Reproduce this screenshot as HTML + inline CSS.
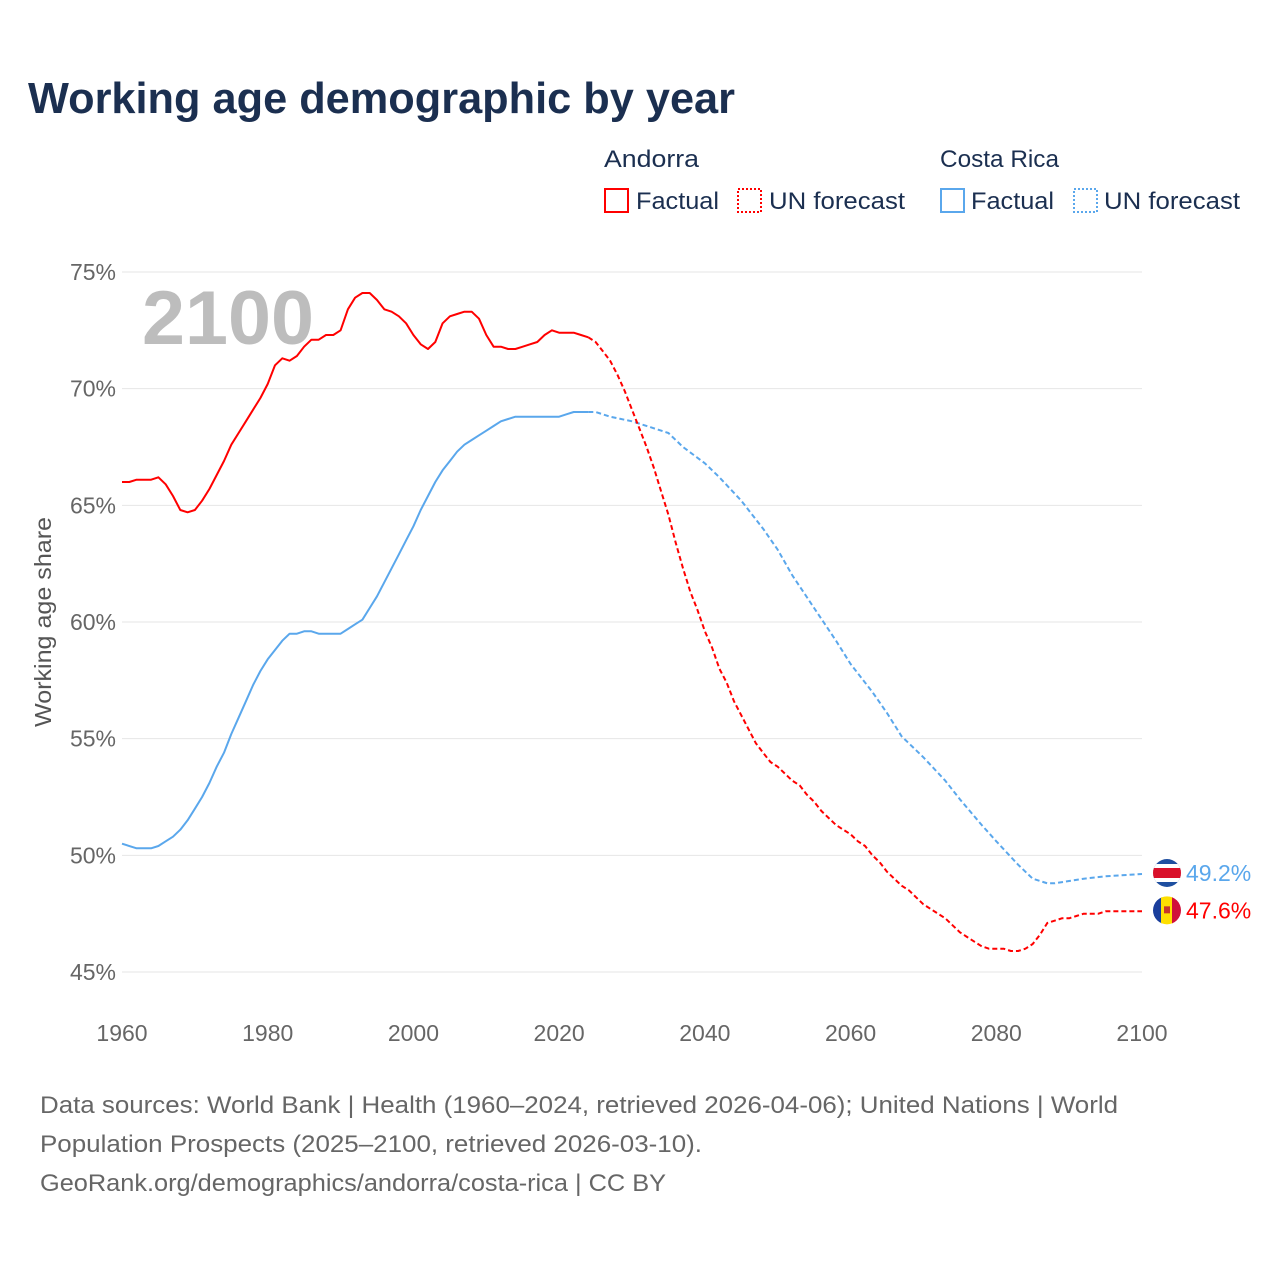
<!DOCTYPE html>
<html><head><meta charset="utf-8"><style>
body{margin:0;background:#fff;width:1280px;height:1280px;overflow:hidden;font-family:"Liberation Sans",sans-serif}
svg text{font-family:"Liberation Sans",sans-serif}
</style></head><body>
<svg id="chart" width="1280" height="1280" xmlns="http://www.w3.org/2000/svg">
<text x="28" y="113" font-size="44" font-weight="bold" fill="#1b2f50" textLength="707" lengthAdjust="spacingAndGlyphs">Working age demographic by year</text>
<g>
<text x="604" y="167" font-size="24" fill="#1b2f50" textLength="95" lengthAdjust="spacingAndGlyphs">Andorra</text>
<rect x="605" y="189" width="23" height="23" fill="none" stroke="#f00" stroke-width="2"/>
<text x="636" y="209" font-size="24" fill="#1b2f50" textLength="83" lengthAdjust="spacingAndGlyphs">Factual</text>
<rect x="738" y="189" width="23" height="23" fill="none" stroke="#f00" stroke-width="2" stroke-dasharray="2 2"/>
<text x="769" y="209" font-size="24" fill="#1b2f50" textLength="136" lengthAdjust="spacingAndGlyphs">UN forecast</text>
<text x="940" y="167" font-size="24" fill="#1b2f50" textLength="119" lengthAdjust="spacingAndGlyphs">Costa Rica</text>
<rect x="941" y="189" width="23" height="23" fill="none" stroke="#5aa7ec" stroke-width="2"/>
<text x="971" y="209" font-size="24" fill="#1b2f50" textLength="83" lengthAdjust="spacingAndGlyphs">Factual</text>
<rect x="1074" y="189" width="23" height="23" fill="none" stroke="#5aa7ec" stroke-width="2" stroke-dasharray="2 2"/>
<text x="1104" y="209" font-size="24" fill="#1b2f50" textLength="136" lengthAdjust="spacingAndGlyphs">UN forecast</text>
</g>
<text x="142" y="344" font-size="76" font-weight="bold" fill="#bdbdbd" textLength="172" lengthAdjust="spacingAndGlyphs">2100</text>
<text transform="translate(51,622) rotate(-90)" text-anchor="middle" font-size="23" fill="#555" textLength="210" lengthAdjust="spacingAndGlyphs">Working age share</text>
<g id="grid"></g><g id="xt"></g><g id="lines"></g><g id="ends"></g>
<g font-size="24" fill="#666">
<text x="40" y="1113" textLength="1078" lengthAdjust="spacingAndGlyphs">Data sources: World Bank | Health (1960–2024, retrieved 2026-04-06); United Nations | World</text>
<text x="40" y="1152" textLength="662" lengthAdjust="spacingAndGlyphs">Population Prospects (2025–2100, retrieved 2026-03-10).</text>
<text x="40" y="1191" textLength="626" lengthAdjust="spacingAndGlyphs">GeoRank.org/demographics/andorra/costa-rica | CC BY</text>
</g>
</svg>
<script>
const yTicks=[45,50,55,60,65,70,75];
const xTicks=[1960,1980,2000,2020,2040,2060,2080,2100];
const andYears=[1960,1961,1962,1964,1965,1966,1967,1968,1969,1970,1971,1972,1973,1974,1975,1976,1977,1978,1979,1980,1981,1982,1983,1984,1985,1986,1987,1988,1989,1990,1991,1992,1993,1994,1995,1996,1997,1998,1999,2000,2001,2002,2003,2004,2005,2006,2007,2008,2009,2010,2011,2012,2013,2014,2015,2016,2017,2018,2019,2020,2021,2022,2023,2024];
const andVals=[66.0,66.0,66.1,66.1,66.2,65.9,65.4,64.8,64.7,64.8,65.2,65.7,66.3,66.9,67.6,68.1,68.6,69.1,69.6,70.2,71.0,71.3,71.2,71.4,71.8,72.1,72.1,72.3,72.3,72.5,73.4,73.9,74.1,74.1,73.8,73.4,73.3,73.1,72.8,72.3,71.9,71.7,72.0,72.8,73.1,73.2,73.3,73.3,73.0,72.3,71.8,71.8,71.7,71.7,71.8,71.9,72.0,72.3,72.5,72.4,72.4,72.4,72.3,72.2];
const andFYears=[2024,2025,2026,2027,2028,2029,2030,2031,2032,2033,2034,2035,2036,2037,2038,2039,2040,2041,2042,2043,2044,2045,2046,2047,2048,2049,2050,2051,2052,2053,2054,2055,2056,2057,2058,2059,2060,2061,2062,2063,2064,2065,2066,2067,2068,2069,2070,2071,2072,2073,2074,2075,2076,2077,2078,2079,2080,2081,2082,2083,2084,2085,2086,2087,2088,2089,2090,2091,2092,2093,2094,2095,2100];
const andFVals=[72.2,72.0,71.6,71.2,70.6,69.9,69.1,68.3,67.5,66.6,65.6,64.6,63.4,62.3,61.3,60.5,59.6,58.9,58.0,57.4,56.6,56.0,55.4,54.8,54.4,54.0,53.8,53.5,53.2,53.0,52.6,52.3,51.9,51.6,51.3,51.1,50.9,50.6,50.4,50.0,49.7,49.3,49.0,48.7,48.5,48.2,47.9,47.7,47.5,47.3,47.0,46.7,46.5,46.3,46.1,46.0,46.0,46.0,45.9,45.9,46.0,46.2,46.6,47.1,47.2,47.3,47.3,47.4,47.5,47.5,47.5,47.6,47.6];
const crYears=[1960,1962,1964,1965,1966,1967,1968,1969,1970,1971,1972,1973,1974,1975,1976,1977,1978,1979,1980,1981,1982,1983,1984,1985,1986,1987,1988,1989,1990,1991,1992,1993,1994,1995,1996,1997,1998,1999,2000,2001,2002,2003,2004,2005,2006,2007,2008,2009,2010,2011,2012,2013,2014,2015,2016,2017,2018,2019,2020,2021,2022,2023,2024];
const crVals=[50.5,50.3,50.3,50.4,50.6,50.8,51.1,51.5,52.0,52.5,53.1,53.8,54.4,55.2,55.9,56.6,57.3,57.9,58.4,58.8,59.2,59.5,59.5,59.6,59.6,59.5,59.5,59.5,59.5,59.7,59.9,60.1,60.6,61.1,61.7,62.3,62.9,63.5,64.1,64.8,65.4,66.0,66.5,66.9,67.3,67.6,67.8,68.0,68.2,68.4,68.6,68.7,68.8,68.8,68.8,68.8,68.8,68.8,68.8,68.9,69.0,69.0,69.0];
const crFYears=[2024,2025,2027,2030,2033,2035,2037,2040,2042,2045,2048,2050,2052,2055,2058,2060,2063,2065,2067,2070,2073,2075,2078,2080,2083,2085,2087,2088,2090,2092,2095,2100];
const crFVals=[69.0,69.0,68.8,68.6,68.3,68.1,67.5,66.8,66.2,65.2,64.0,63.1,62.0,60.6,59.2,58.2,57.0,56.1,55.1,54.2,53.2,52.4,51.3,50.6,49.6,49.0,48.8,48.8,48.9,49.0,49.1,49.2];
const X=y=>122+(y-1960)*(1020/140);
const Y=v=>972-(v-45)*(700/30);
const NS="http://www.w3.org/2000/svg";
function mk(tag,attrs,parent){const e=document.createElementNS(NS,tag);for(const k in attrs)e.setAttribute(k,attrs[k]);parent.appendChild(e);return e;}
const grid=document.getElementById('grid');
yTicks.forEach(t=>{
 const l=mk('line',{x1:122,x2:1142,y1:Y(t),y2:Y(t),stroke:'#e6e6e6','stroke-width':1},grid);
 
 
 const tx=mk('text',{x:116,y:Y(t)+8,'text-anchor':'end','font-size':23,fill:'#666'},grid);
 tx.textContent=t+'%';
 
 
});
const xt=document.getElementById('xt');
xTicks.forEach(t=>{
 const tx=mk('text',{x:X(t),y:1041,'text-anchor':'middle','font-size':23,fill:'#666'},xt);
 tx.textContent=t;
 
 
});
const lines=document.getElementById('lines');
function line(ys,vs,color,dash,name){
 const d=ys.map((y,i)=>(i?'L':'M')+X(y).toFixed(1)+','+Y(vs[i]).toFixed(1)).join('');
 const p=mk('path',{d:d,fill:'none',stroke:color,'stroke-width':2,'stroke-linejoin':'round'},lines);
 if(dash)p.setAttribute('stroke-dasharray','5 3');
 
 
}
line(crYears,crVals,'#5aa7ec',false,'costa-rica-factual-line');
line(crFYears,crFVals,'#5aa7ec',true,'costa-rica-forecast-line');
line(andYears,andVals,'#f00',false,'andorra-factual-line');
line(andFYears,andFVals,'#f00',true,'andorra-forecast-line');
const ends=document.getElementById('ends');
const crLast=crFVals[crFVals.length-1], anLast=andFVals[andFVals.length-1];
let g=mk('g',{},ends);


let cy=Y(crLast)-1;
const cp1=mk('clipPath',{id:'c1'},g);mk('circle',{cx:1167,cy:cy,r:14},cp1);
const gc=mk('g',{'clip-path':'url(#c1)'},g);
mk('rect',{x:1150,y:cy-15,width:34,height:30,fill:'#1e4fa0'},gc);
mk('rect',{x:1150,y:cy-9,width:34,height:18,fill:'#fff'},gc);
mk('rect',{x:1150,y:cy-5,width:34,height:10,fill:'#d9102a'},gc);
let t1=mk('text',{x:1186,y:Y(crLast)+7,'font-size':23,fill:'#5aa7ec'},ends);
t1.textContent=crLast.toFixed(1)+'%';


g=mk('g',{},ends);


cy=Y(anLast)-1;
const cp=mk('clipPath',{id:'c2'},g);mk('circle',{cx:1167,cy:cy,r:14},cp);
const ga=mk('g',{'clip-path':'url(#c2)'},g);
mk('rect',{x:1150,y:cy-15,width:12,height:30,fill:'#1a3e9c'},ga);
mk('rect',{x:1161,y:cy-15,width:12,height:30,fill:'#fedf00'},ga);
mk('rect',{x:1172,y:cy-15,width:12,height:30,fill:'#d0103a'},ga);
mk('rect',{x:1164,y:cy-4,width:6,height:7,fill:'#c7362a'},ga);
let t2=mk('text',{x:1186,y:Y(anLast)+7,'font-size':23,fill:'#f00'},ends);
t2.textContent=anLast.toFixed(1)+'%';


</script>
</body></html>
